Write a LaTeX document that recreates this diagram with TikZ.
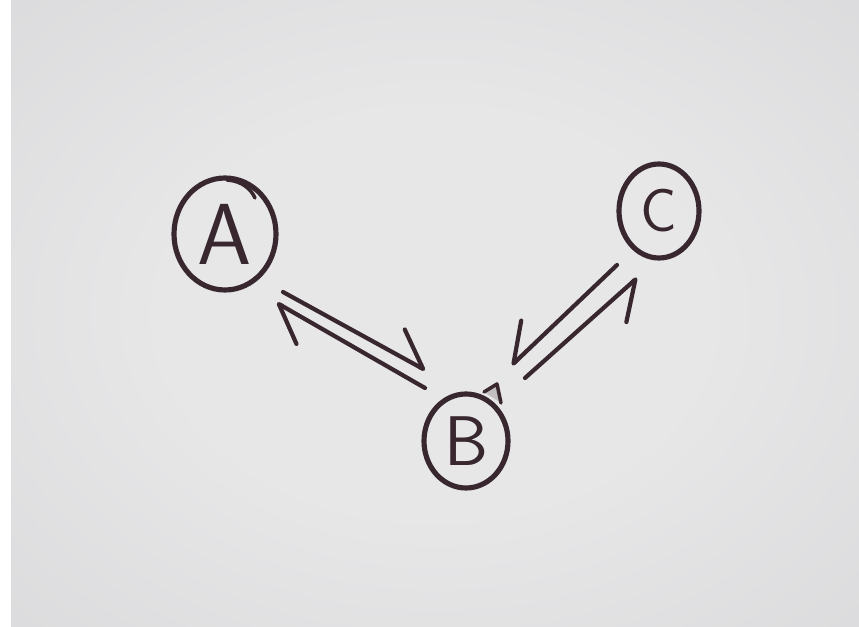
\documentclass[tikz,border=0pt]{standalone}
\usepackage{fontspec}
\usetikzlibrary{arrows.meta,shapes.geometric}

\definecolor{ink}{HTML}{38272E}
\definecolor{paperhi}{HTML}{E7E7E8}
\definecolor{papermid}{HTML}{D9D9DB}
\definecolor{paperlo}{HTML}{BEBEC1}

% soft vignette of the sheet of paper
\pgfdeclareradialshading{paper}{\pgfpoint{0bp}{0bp}}{%
  color(0bp)=(paperhi); color(16bp)=(paperhi);
  color(40bp)=(papermid); color(71bp)=(paperlo)}

\tikzset{
  state/.style={draw=ink, line width=4.4pt, ellipse, inner sep=0pt,
                text=ink, font=\sffamily},
  pen/.style={draw=ink, line width=3pt, line cap=round, line join=round},
  harp/.style={draw=ink, line width=3.6pt, line cap=round,
               -{Straight Barb[harpoon, length=30pt, width=44pt, round]}},
  harpsw/.style={draw=ink, line width=3.6pt, line cap=round,
               -{Straight Barb[harpoon, swap, length=30pt, width=44pt, round]}},
}

\begin{document}
\begin{tikzpicture}[x=0.03cm, y=-0.03cm]
  \useasboundingbox (0,0) rectangle (859,627);
  \fill[white] (0,0) rectangle (859,627);
  \shade[shading=paper] (11,0) rectangle (859,627);

  % the three states
  \node[state, minimum width=3.06cm, minimum height=3.36cm,
        font=\sffamily\fontsize{74}{74}\selectfont] (A) at (225,234) {A};
  \node[state, minimum width=2.52cm, minimum height=2.82cm,
        font=\sffamily\fontsize{60}{60}\selectfont] (B) at (466,441) {B};
  \node[state, minimum width=2.40cm, minimum height=2.82cm,
        font=\sffamily\fontsize{52}{52}\selectfont] (C) at (659,211) {C};

  % pen overlaps where the circles were closed
  \draw[pen] ([shift={(2,-54)}]A.center)
     .. controls ([shift={(17,-53)}]A.center) and ([shift={(26,-45)}]A.center)
     .. ([shift={(30,-36)}]A.center);
  \draw[pen, fill=ink!30] ([shift={(18,-49)}]B.center)
     -- ([shift={(31,-57)}]B.center) -- ([shift={(35,-38)}]B.center);

  % A <=> B
  \draw[harp] ([shift={(58,58)}]A.center) -- ([shift={(-41,-71)}]B.center);
  \draw[harp] ([shift={(-41,-53)}]B.center) -- ([shift={(52,69)}]A.center);

  % C <=> B
  \draw[harpsw] ([shift={(-42,54)}]C.center) -- ([shift={(46,-76)}]B.center);
  \draw[harpsw] ([shift={(59,-63)}]B.center) -- ([shift={(-22,67)}]C.center);
\end{tikzpicture}
\end{document}
